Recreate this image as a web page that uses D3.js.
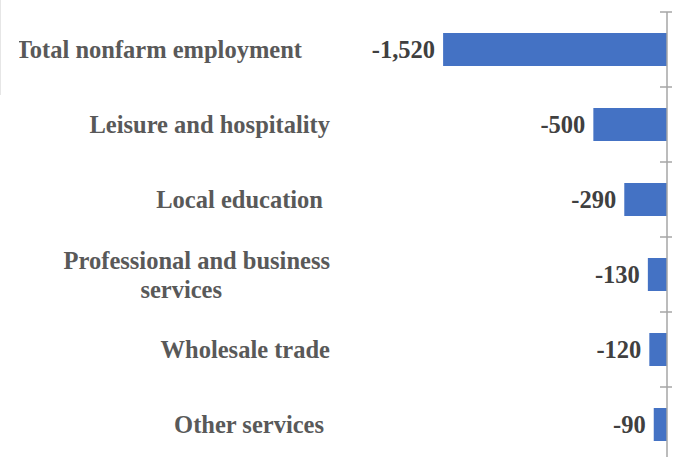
<!DOCTYPE html>
<html><head><meta charset="utf-8">
<script src="https://cdn.jsdelivr.net/npm/d3@7"></script>
<style>
html,body{margin:0;padding:0;background:#fff;}
svg{display:block;}
</style></head>
<body>
<svg id="chart" width="678" height="457"></svg>
<script>
const categories = [
  ["Total nonfarm employment"],
  ["Leisure and hospitality"],
  ["Local education"],
  ["Professional and business", "services"],
  ["Wholesale trade"],
  ["Other services"]
];
const values = [-1520, -500, -290, -130, -120, -90];
const valueLabels = ["-1,520", "-500", "-290", "-130", "-120", "-90"];

const W = 678, H = 457;
const svg = d3.select("#chart");

const zeroX = 667;
const x = d3.scaleLinear().domain([-1600, 0]).range([zeroX - 1600 * 0.1473, zeroX]);
const y = d3.scaleBand().domain(d3.range(categories.length)).range([12, 462]).paddingInner(0.56).paddingOuter(0.28);
const yTicks = d3.scaleBand().domain(d3.range(categories.length)).range([12, 462]);

// faint frame line at top-left (cropped source)
svg.append("line").attr("x1", 0.5).attr("x2", 0.5).attr("y1", 0).attr("y2", 95)
  .attr("stroke", "#e6e6e6").attr("stroke-width", 1);

// bars
svg.append("g").selectAll("rect").data(values).join("rect")
  .attr("x", d => x(d))
  .attr("width", d => x(0) - x(d))
  .attr("y", (d, i) => y(i))
  .attr("height", y.bandwidth())
  .attr("fill", "#4472C4");

// axis (category axis at zero)
const axisG = svg.append("g");
axisG.append("line").attr("x1", zeroX).attr("x2", zeroX).attr("y1", 12).attr("y2", H)
  .attr("stroke", "#a6a6a6").attr("stroke-width", 1.5);
const tickYs = d3.range(categories.length + 1).map(i => i < categories.length ? yTicks(i) : yTicks.range()[1]);
axisG.selectAll("line.tick").data(tickYs).join("line").attr("class", "tick")
  .attr("x1", zeroX - 7).attr("x2", zeroX + 5)
  .attr("y1", d => d).attr("y2", d => d)
  .attr("stroke", "#a6a6a6").attr("stroke-width", 1.5);

// value labels
svg.append("g").selectAll("text").data(values).join("text")
  .attr("x", d => x(d) - 8)
  .attr("y", (d, i) => y(i) + y.bandwidth() / 2)
  .attr("dy", "0.35em")
  .attr("text-anchor", "end")
  .attr("font-family", "'Liberation Serif', 'Times New Roman', serif")
  .attr("font-weight", "bold")
  .attr("font-size", 24.5)
  .attr("fill", "#404040")
  .text((d, i) => valueLabels[i]);

// category labels
const labelRight = [302, 330, 323, 330, 330, 324];
const lineRight = { "services": 222 };
const clip = svg.append("defs").append("clipPath").attr("id", "lc");
clip.append("rect").attr("x", 19).attr("y", 0).attr("width", W).attr("height", H);
const lg = svg.append("g").attr("clip-path", "url(#lc)");
categories.forEach((lines, i) => {
  const cy = yTicks(i) + yTicks.bandwidth() / 2;
  const lh = 29;
  lines.forEach((t, j) => {
    lg.append("text")
      .attr("x", lineRight[t] !== undefined ? lineRight[t] : labelRight[i])
      .attr("y", cy + (j - (lines.length - 1) / 2) * lh)
      .attr("dy", "0.35em")
      .attr("text-anchor", "end")
      .attr("font-family", "'Liberation Serif', 'Times New Roman', serif")
      .attr("font-weight", "bold")
      .attr("font-size", 24.5)
      .attr("fill", "#595959")
      .text(t);
  });
});
</script>
</body></html>
